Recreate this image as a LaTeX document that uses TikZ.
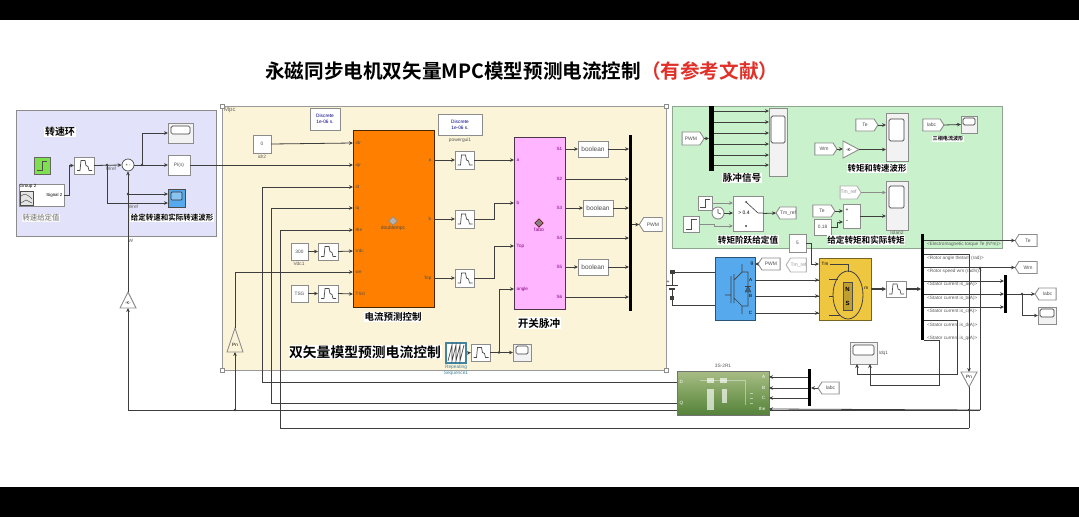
\documentclass[tikz,border=0pt]{standalone}
\usepackage{fontspec}
\setmainfont{Liberation Sans}
\newfontfamily\cjkb{Noto Sans CJK SC Bold}
\newfontfamily\cjkr{Noto Sans CJK SC}
\usetikzlibrary{arrows.meta,shapes.symbols,shapes.geometric,calc}
\definecolor{lnc}{HTML}{3E3E3E}
\definecolor{blkb}{HTML}{8C8C8C}
\definecolor{blueg}{HTML}{E2E2FA}
\definecolor{yelg}{HTML}{FCF4D8}
\definecolor{greg}{HTML}{C9F1CB}
\definecolor{gedge}{HTML}{8FA58F}
\definecolor{orng}{HTML}{FF8000}
\definecolor{pnk}{HTML}{FFB5FF}
\definecolor{invb}{HTML}{55A9EC}
\definecolor{moty}{HTML}{EFC63F}
\definecolor{redt}{HTML}{E0302A}
\definecolor{stepg}{HTML}{7FE04F}
\definecolor{tstop}{HTML}{A9BD86}
\definecolor{tsmid}{HTML}{7DA05C}
\definecolor{tsbot}{HTML}{55823A}
\newcommand\fs[1]{\fontsize{#1}{#1}\selectfont}
\tikzset{
  sig/.style={draw=lnc,line width=0.8pt,-{Stealth[length=4pt,width=3.6pt]}},
  wire/.style={draw=lnc,line width=0.8pt},
  thk/.style={draw=lnc,line width=1.6pt,-{Stealth[length=4pt,width=4pt]}},
  blk/.style={draw=blkb,line width=0.9pt,fill=white,inner sep=0pt,outer sep=0pt,font=\fs{4.8}\color{black!70}},
  bar/.style={draw=none,fill=black,inner sep=0pt,outer sep=0pt},
  plabel/.style={inner sep=0.5pt,font=\fs{4.6}},
  buslab/.style={anchor=west,inner sep=0pt,text=black!65,font=\fs{4.7}},
  caplab/.style={inner sep=0.5pt,font=\fs{4.8}\color{black!65}},
  tagr/.style={signal,signal to=east,signal pointer angle=115,draw=blkb,line width=0.9pt,fill=white,inner sep=0pt,outer sep=0pt,font=\fs{5}\color{black!70}},
  tagl/.style={signal,signal to=west,signal pointer angle=115,draw=blkb,line width=0.9pt,fill=white,inner sep=0pt,outer sep=0pt,font=\fs{5}\color{black!70}},
  handle/.style={draw=black!45,fill=white,line width=0.4pt,inner sep=0pt,minimum size=4pt},
}
\newcommand\simbox[7][blk]{\node[#1,minimum width={(#5-#3)*1pt},minimum height={(#6-#4)*1pt}] (#2) at ({(#3+#5)/2},{(#4+#6)/2}) {#7};}
\newcommand\simdelay[5]{\simbox{#1}{#2}{#3}{#4}{#5}{}
  \draw[black!70,line width=0.7pt] ($(#1.center)+(-7,5)$) -- ++(3,0) -- ++(1,-10) -- ++(4,0) -- ++(1,5) -- ++(2,1) -- ++(1,4) -- ++(3,0);}
\newcommand\simscope[9]{\simbox[blk,fill=black!5]{#1}{#2}{#3}{#4}{#5}{}
  \draw[black!75,fill=white,line width=0.7pt,rounded corners=1.5pt] (#6,#7) rectangle (#8,#9);}
\newcommand\lab[6][black]{\node[inner sep=0.6pt,fill=white,text=#1] (#2) at (#3,#4) {\fs{#5}\cjkb #6};}
\begin{document}
\begin{tikzpicture}[x=1pt,y=-1pt]
\useasboundingbox (0,0) rectangle (1079,517);
\fill[white] (0,0) rectangle (1079,517);
\fill[black] (0,0) rectangle (1079,20);
\fill[black] (0,487) rectangle (1079,517);
% title
\node[anchor=west,inner sep=0pt] (title) at (265,71) {\fs{19.6}\cjkb 永磁同步电机双矢量MPC模型预测电流控制\textcolor{redt}{（有参考文献）}};
% backgrounds
\simbox[draw=black!45,fill=blueg,line width=0.8pt,inner sep=0pt]{bgblue}{16}{110}{216}{236}{}
\simbox[draw=black!40,fill=yelg,line width=0.8pt,inner sep=0pt]{bgmpc}{222}{106}{666}{370}{}
\simbox[draw=gedge,fill=greg,line width=0.8pt,inner sep=0pt]{bggreen}{672}{106}{1002}{248}{}
\node[anchor=west,inner sep=0pt,text=black!60,font=\fs{6}] (mpcname) at (224,110) {Mpc};
\foreach \n/\hx/\hy in {ha/222/106,hb/666/106,hc/666/370,hd/222/370} \node[handle] (\n) at (\hx,\hy) {};

% ---- long wires behind the blocks ----
\coordinate (dcorner) at (262,382);
\coordinate (qcorner) at (271,403);
\coordinate (thcorner) at (280,428);
\coordinate (wcorner) at (128,410);
\coordinate (pnj) at (235,410);
\coordinate (wmright) at (980,410);
\coordinate (wmtop) at (980,268);
\coordinate (thr) at (969,428);
\coordinate (thj) at (969,410);

% ---- speed loop ----
\lab{lspeed}{60}{132}{10}{转速环}
\simbox[draw=black!60,fill=stepg,line width=0.8pt]{gstep}{34}{157}{50}{174}{}
\draw[black!70,line width=0.8pt] (37,170) -- (42,170) -- (42,161) -- (47,161);
\simbox{sigb}{19}{184}{64}{206}{}
\node[anchor=north west,inner sep=0.5pt,font=\fs{4.6}] (grp) at (19,184) {Group 2};
\node[anchor=east,inner sep=0.5pt,font=\fs{4.4}] (sgn) at (63,195) {Signal 2};
\draw[black!70,line width=0.5pt,fill=black!10] (20,191) rectangle (33,205);
\draw[black!70,line width=0.5pt] (21,196) .. controls (25,193) and (27,194) .. (32,199) (21,203) -- (26,200) -- (32,203);
\simdelay{dw}{74}{157}{94}{174}
\node[circle,draw=black!70,fill=white,line width=0.7pt,minimum size=12pt,inner sep=0pt,font=\fs{4}] (sum) at (128,165) {+ -};
\simscope{sc1}{168}{123}{193}{143}{171}{126}{190}{134}
\simbox{pi}{168}{155}{190}{175}{\fs{4.8}PI(s)}
\simbox[blk,fill=invb,draw=black!70]{sc2}{168}{189}{185}{207}{}
\draw[black!80,fill=invb!70!white,line width=0.7pt,rounded corners=1pt] (171,192) rectangle (182,200);
\node[caplab] (wrefa) at (111,169) {Wref};
\node[caplab] (wrefb) at (133,207) {Wref};
\node[caplab] (wlab) at (131,241) {W};
\node[inner sep=0.5pt,text=black!55,fill=black!3] (lgiven) at (41,218) {\fs{7.4}\cjkr 转速给定值};
\lab{lwave}{172}{218}{7.5}{给定转速和实际转速波形}
\coordinate (jw1) at (107,165);
\coordinate (jw2) at (142,165);
\coordinate (jw3) at (128,194);
\draw[sig] (sigb.east) -- ++(5,0) |- (dw.west);
\draw[sig] (dw.east) -- (sum.west);
\draw[sig] (sum.east) -- (pi.west);
\draw[sig] (jw2) |- (sc1.west);
\draw[sig] (jw1) |- ($(sc2.west)+(0,5)$);
\draw[sig] (jw3) -- ($(sc2.west)+(0,-4)$);
\foreach \j in {jw1,jw2,jw3} \fill[lnc] (\j) circle (1.4);

% triangle K
\coordinate (ktop) at (128,292);
\coordinate (kbot) at (128,308);
\draw[draw=blkb,fill=white,line width=0.9pt] (ktop) -- (136,308) -- (120,308) -- cycle;
\node[inner sep=0pt,font=\fs{4.2}] (ktxtb) at (128,303) {-K-};
\draw[sig] (ktop) -- (sum.south);
\draw[sig] (wmright) -- (wcorner) -- (kbot);
\fill[lnc] (pnj) circle (1.4);
% triangle Pn
\coordinate (ptop) at (235,328);
\coordinate (pbot) at (235,352);
\draw[draw=blkb,fill=yelg,line width=0.9pt] (ptop) -- (243,352) -- (227,352) -- cycle;
\node[inner sep=0pt,font=\fs{4.6}] (ptxt) at (235,345) {Pn};
\draw[sig] (pnj) -- (pbot);

% ---- Mpc ----
\simbox{disc}{310}{108}{340}{130}{\shortstack{\fs{4.8}\color{blue!50!black}Discrete\\\fs{4.8}\color{blue!50!black}1e-06 s.}}
\simbox[blk]{disc2}{438}{114}{482}{135}{\shortstack{\fs{4.8}\color{blue!50!black}Discrete\\\fs{4.8}\color{blue!50!black}1e-06 s.}}
\node[caplab] (pgui) at (460,140) {powergui1};
\simbox[draw=black!70!orng,fill=orng,line width=1pt,inner sep=0pt]{mpcb}{353}{130}{434}{307}{}
\draw[black!45,fill=black!30,line width=0.4pt,rotate around={45:(393,221)}] (390,218) rectangle (396,224);
\node[inner sep=0pt,text=black!70,font=\fs{5}] (mpcname2) at (393,228) {doublempc};
\foreach \n/\py/\t in {idr/143/idr,iqr/165/iqr,id/187/id,iq/208/iq,the/230/the,vdc/251/Vdc,we/272/we,tsg/294/TSG}{
  \coordinate (p\n) at (353,\py);
  \node[plabel,anchor=west,text=black!70] (t\n) at (355,\py) {\t};
}
\foreach \n/\py/\t in {a/160/a,b/219/b,t/278/Top}{
  \coordinate (o\n) at (434,\py);
  \node[plabel,anchor=east,text=black!70] (to\n) at (432,\py) {\t};
}
\simbox{c0}{253}{135}{271}{153}{0}
\node[caplab] (c0l) at (262,157) {idr2};
\simbox{c300}{291}{243}{308}{260}{300}
\node[caplab] (c300l) at (299,264) {Vdc1};
\simdelay{d300}{318}{243}{338}{260}
\simbox{ctsg}{291}{285}{308}{302}{TSG}
\simdelay{dtsg}{318}{285}{338}{302}
\draw[sig] (c0.east) -- (pidr);
\draw[sig] (pi.east) -- (piqr);
\draw[sig] (c300.east) -- (d300.west);
\draw[sig] (d300.east) -- (pvdc);
\draw[sig] (ctsg.east) -- (dtsg.west);
\draw[sig] (dtsg.east) -- (ptsg);
\draw[sig] (682,382) -- (dcorner) |- (pid);
\draw[sig] (682,403) -- (qcorner) |- (piq);
\draw[sig] (thr) -- (thcorner) |- (pthe);
\draw[sig] (ptop) |- (pwe);

\simdelay{da}{455}{151}{474}{169}
\simdelay{db}{455}{210}{474}{228}
\simdelay{dt}{455}{269}{474}{287}
\draw[sig] (oa) -- (da.west);
\draw[sig] (ob) -- (db.west);
\draw[sig] (ot) -- (dt.west);

\simbox[draw=black!70!pnk,fill=pnk,line width=1pt,inner sep=0pt]{fabo}{514}{137}{565}{309}{}
\draw[black!60!red,fill=black!50,line width=0.4pt,rotate around={45:(539,223)}] (536,220) rectangle (542,226);
\node[inner sep=0pt,text=violet,font=\fs{5}] (fabon) at (539,230) {fabo};
\foreach \n/\py/\t in {a/160/a,b/203/b,t/246/Top,g/289/angle}{
  \coordinate (f\n) at (514,\py);
  \node[plabel,anchor=west,text=violet] (tf\n) at (516,\py) {\t};
}
\foreach \n/\py in {1/149,2/179,3/208,4/238,5/267,6/297}{
  \coordinate (s\n) at (565,\py);
  \node[plabel,anchor=east,text=violet] (ts\n) at (563,\py) {S\n};
}
\draw[sig] (da.east) -- (fa);
\draw[sig] (db.east) -- ++(20,0) |- (fb);
\draw[sig] (dt.east) -- ++(20,0) |- (ft);

\simbox{b1}{578}{141}{608}{157}{\fs{6.5}boolean}
\simbox{b3}{583}{200}{613}{216}{\fs{6.5}boolean}
\simbox{b5}{578}{259}{608}{275}{\fs{6.5}boolean}
\simbox[bar]{pbar}{629}{135}{632}{311}{}
\node[tagl,minimum width=23pt,minimum height=14pt] (pwmg) at (653,224.5) {PWM};
\draw[sig] (s1) -- (b1.west);
\draw[sig] (s3) -- (b3.west);
\draw[sig] (s5) -- (b5.west);
\draw[sig] (b1.east) -- (b1.east -| pbar.west);
\draw[sig] (s2) -- (s2 -| pbar.west);
\draw[sig] (b3.east) -- (b3.east -| pbar.west);
\draw[sig] (s4) -- (s4 -| pbar.west);
\draw[sig] (b5.east) -- (b5.east -| pbar.west);
\draw[sig] (s6) -- (s6 -| pbar.west);
\draw[sig] (pbar.east |- pwmg.west) -- (pwmg.west);

\lab{lcur}{393}{317}{9.5}{电流预测控制}
\lab{lsw}{539}{323}{10.6}{开关脉冲}
\lab{ldbl}{365}{352}{13.8}{双矢量模型预测电流控制}
\simbox[draw=cyan!60!black,fill=white,line width=1.4pt,inner sep=0pt]{rep}{446}{343}{466}{363}{}
\draw[black!75,line width=0.7pt] (448,361) -- (452,345) -- (452,361) -- (456,345) -- (456,361) -- (460,345) -- (460,361) -- (464,345);
\node[inner sep=0pt,text=cyan!60!black,font=\fs{4.8}] (repa) at (456,367) {Repeating};
\node[inner sep=0pt,text=cyan!60!black,font=\fs{4.8}] (repb) at (456,373) {Sequence1};
\simdelay{dr}{471}{344}{490}{361}
\simscope{scr}{513}{344}{531}{361}{516}{346}{528}{354}
\coordinate (jr) at (499,352.5);
\draw[sig] (rep.east) -- (dr.west);
\draw[sig] (dr.east) -- (scr.west);
\draw[sig] (jr) |- (fg);
\fill[lnc] (jr) circle (1.4);

% ---- green panel ----
\node[tagr,minimum width=22pt,minimum height=13pt] (pwmf) at (691,138.5) {PWM};
\simbox[bar]{gbar}{709}{106}{714}{171}{}
\draw[sig] (pwmf.east) -- (pwmf.east -| gbar.west);
\simscope{sc3}{769}{108}{787}{176}{771}{116}{785}{143}
\foreach \py in {111,122,133,144,155,165}{
  \coordinate (gb) at (714,\py);
  \draw[sig] (gb) -- (gb -| sc3.west);
}
\lab[black]{lpulse}{742}{178}{9.6}{脉冲信号}
\node[tagr,minimum width=22pt,minimum height=12pt] (tef) at (865,125) {Te};
\node[tagr,minimum width=22pt,minimum height=12pt] (wmf) at (824,149) {Wm};
\coordinate (gtop) at (843,141);
\coordinate (gbot) at (843,158);
\coordinate (gtip) at (859,149.5);
\draw[draw=blkb,fill=white,line width=0.9pt] (gtop) -- (gtip) -- (gbot) -- cycle;
\node[inner sep=0pt,font=\fs{4.4}] (gtxt) at (849,149.5) {-K-};
\simscope{sc4}{886}{113}{908}{161}{889}{119}{904}{141}
\draw[sig] (tef.east) -- (tef.east -| sc4.west);
\draw[sig] (wmf.east) -- (843,149);
\draw[sig] (gtip) -- (gtip -| sc4.west);
\lab[black]{lts}{877}{168}{8.4}{转矩和转速波形}
\node[tagr,minimum width=21pt,minimum height=12pt] (iaf) at (931.5,125) {Iabc};
\simscope{sc5}{961}{116}{977}{133}{963}{118}{975}{125}
\draw[sig] (iaf.east) -- (sc5.west);
\lab[black]{l3p}{948}{139}{5.1}{三相电流波形}

\simbox{st1}{698}{196}{712}{210}{}
\draw[black!70,line width=0.6pt] (700,207) -- (705,207) -- (705,199) -- (710,199);
\simbox{st2}{683}{216}{699}{232}{}
\draw[black!70,line width=0.6pt] (686,229) -- (691,229) -- (691,219) -- (697,219);
\simbox{sw}{733}{196}{763}{231}{}
\coordinate (sw1) at (733,202);
\coordinate (sw2) at (733,213);
\coordinate (sw3) at (733,226);
\draw[black!75,line width=0.6pt] (746,202) -- (758,213) (758,213) -- (763,213) (746,226) -- (745,226);
\fill[black!75] (746,202) circle (1);
\fill[black!75] (746,226) circle (1);
\node[inner sep=0pt,font=\fs{5}] (swt) at (744,213) {> 0.4};
\draw[sig,draw=black!45] (st1.east) -- (st1.east -| sw1);
\draw[sig,draw=black!45] (st2.east) -- ++(15,0) |- (sw3);
\node[circle,draw=blkb,fill=white,line width=0.9pt,minimum size=12pt,inner sep=0pt] (clk) at (718,213) {};
\draw[black!75,line width=0.6pt] (718,209) -- (718,213) -- (721,214);
\draw[sig] (clk.east) -- (sw2);
\node[tagl,minimum width=20pt,minimum height=12pt] (tmg) at (788,213) {Tm\_ref};
\draw[sig] (sw.east) -- (tmg.west);
\lab[black]{lstp}{748}{240}{8.6}{转矩阶跃给定值}

\node[tagr,draw=black!30,text=black!45,fill=white,minimum width=21pt,minimum height=13pt] (tmf) at (848.5,192.5) {Tm\_ref};
\node[tagr,minimum width=22pt,minimum height=12pt] (te2) at (822,211) {Te};
\simbox{c18}{814}{219}{831}{235}{0.18}
\simbox{sm}{843}{204}{860}{228}{}
\node[inner sep=0pt,font=\fs{5}] (smp) at (847,210) {+};
\node[inner sep=0pt,font=\fs{6}] (smm) at (847,222) {-};
\simscope{sc6}{886}{181}{908}{230}{889}{186}{904}{208}
\node[caplab] (iolan) at (897,233) {Iolan2};
\draw[sig] (te2.east) -- (te2.east -| sm.west);
\draw[sig] (c18.east) -- ++(6,0) |- (843,222);
\draw[sig,draw=black!45] (tmf.east) -- (tmf.east -| sc6.west);
\draw[sig] (sm.east) -- (sc6.west |- sm.east);
\lab[black]{lreal}{866}{240}{8.6}{给定转矩和实际转矩}

% ---- power stage ----
\coordinate (bt) at (672,272);
\coordinate (bb) at (672,298);
\simbox[draw=black!50!invb,fill=invb,line width=0.9pt,inner sep=0pt]{inv}{715}{257}{755}{320}{}
\coordinate (invp) at (715,272);
\coordinate (invm) at (715,305);
\draw[wire] (bt) -- (invp);
\draw[wire] (bb) -- (672,305) -- (invm);
\draw[wire] (bt) -- (672,285);
\draw[wire] (bb) -- (672,289);
\draw[lnc,line width=1pt] (666,285) -- (678,285);
\draw[lnc,line width=1.4pt] (669,289) -- (675,289);
\fill[lnc] (669.5,270) rectangle (674.5,274);
\fill[lnc] (670,296) rectangle (674,300);
\node[inner sep=0pt,font=\fs{5}] (batp) at (668,282) {+};
\draw[black!75,line width=0.7pt] (731,276) -- (731,303) (734,274) -- (734,303) (734,280) -- (742,272) (742,272) -- (742,264) (734,298) -- (742,306) -- (742,314) (742,272) -- (748,272) -- (748,306) -- (742,306) (725,295) -- (731,295);
\draw[black!75,fill=invb!60!black,line width=0.4pt] (745,292) -- (751,292) -- (748,286) -- cycle;
\draw[black!75,line width=0.6pt] (745,286) -- (751,286);
\node[inner sep=0pt,font=\fs{4.6}] (invg) at (752,264) {g};
\foreach \n/\py/\t in {a/280/A,b/296/B,c/313/C}{
  \coordinate (i\n) at (755,\py);
  \coordinate (m\n) at (819,\py);
  \node[plabel,anchor=east] (ti\n) at (753,\py) {\t};
  \node[plabel,anchor=west] (tm\n) at (825,\py) {\t};
}
\node[tagl,minimum width=22pt,minimum height=12pt] (pwmf2) at (771,264) {PWM};
\draw[sig] (pwmf2.west) -- (755,264);
\simbox[draw=black!50!moty,fill=moty,line width=0.9pt,inner sep=0pt]{mot}{819}{258}{871}{320}{}
\draw[black!75,line width=0.6pt] (830,264) -- (848,264) -- (848,272) (829,279) -- (838,279) (829,296) -- (833,296) (829,315) -- (840,315);
\draw[black!75,line width=0.8pt] (848,295) ellipse (15 and 24);
\simbox[draw=black!70,fill=moty!80!black,line width=0.6pt,inner sep=0pt]{ns}{843}{282}{852}{310}{}
\node[inner sep=0pt,font=\bfseries\fs{6}] (nn) at (847.5,289) {N};
\node[inner sep=0pt,font=\bfseries\fs{6}] (ss) at (847.5,303) {S};
\node[plabel,anchor=west] (ttm) at (821,264) {Tm};
\node[plabel,anchor=east] (tmm) at (869,288) {m};
\draw[wire] (ia) -- (ma) (ib) -- (mb) (ic) -- (mc);
\foreach \c in {ma,mb,mc} \draw[sig] ($(\c)+(-6,0)$) -- (\c);

\simbox{c5}{789}{234}{806}{252}{5}
\coordinate (tmin) at (819,264);
\draw[sig] (c5.east) -- (811,243) |- (tmin);
\node[tagl,draw=black!30,text=black!40,minimum width=19pt,minimum height=14pt] (tmf2) at (798.5,265) {Tm\_ref};

\simdelay{dm}{886}{281}{906}{297}
\simbox[bar]{dbar}{921}{234}{924}{340}{}
\draw[thk] (871,289) -- (dm.west);
\draw[thk] (dm.east) -- (dbar.west |- dm.east);

\foreach \n/\py/\t in {te/244/{<Electromagnetic torque Te (N*m)>},ra/258/{<Rotor angle thetam (rad)>},rs/271/{<Rotor speed wm (rad/s)>},sa/284/{<Stator current is\_a(A)>},sb/298/{<Stator current is\_b(A)>},sc/311/{<Stator current is\_c(A)>},sd/325/{<Stator current is\_d(A)>},sq/338/{<Stator current is\_q(A)>}}
  \node[buslab] (bl\n) at (927,\py) {\t};

\node[tagl,minimum width=22pt,minimum height=12pt] (teg) at (1028,240.5) {Te};
\node[tagl,minimum width=22pt,minimum height=12pt] (wmg) at (1028,267.5) {Wm};
\simbox[bar]{mbar}{1004}{275}{1007}{313}{}
\node[tagl,minimum width=21pt,minimum height=12pt] (iag) at (1047.5,294) {Iabc};
\simscope{sc7}{1038}{307}{1056}{324}{1040}{309}{1054}{317}
\coordinate (jia) at (1022,294);
\draw[sig] (dbar.east |- teg.west) -- (teg.west);
\draw[sig] (dbar.east |- wmg.west) -- (wmg.west);
\coordinate (ra) at (924,254);
\coordinate (sa) at (924,281);
\coordinate (sb) at (924,294);
\coordinate (sc) at (924,307);
\coordinate (sd) at (924,320);
\coordinate (sq) at (924,340);
\draw[sig] (sa) -- (sa -| mbar.west);
\draw[sig] (sb) -- (sb -| mbar.west);
\draw[sig] (sc) -- (sc -| mbar.west);
\draw[sig] (mbar.east |- iag.west) -- (iag.west);
\draw[sig] (jia) |- (sc7.west);
\fill[lnc] (jia) circle (1.4);

\simscope{idq}{850}{342}{877}{364}{853}{345}{874}{355}
\node[caplab,anchor=west] (idql) at (878,353) {Idq1};
\coordinate (idqa) at (857,364);
\coordinate (idqb) at (870,364);
\draw[sig] (sd) -| (957,374) -| (idqa);
\draw[sig] (sq) -| (939,385) -| (idqb);

% Pn triangle right
\coordinate (ptop2) at (969,387);
\coordinate (pbase2) at (969,372);
\draw[draw=blkb,fill=white,line width=0.9pt] (ptop2) -- (977,372) -- (961,372) -- cycle;
\node[inner sep=0pt,font=\fs{4.6}] (ptxt2) at (969,377) {Pn};
\draw[sig] (ra) -| (pbase2);
\draw[wire] (ptop2) -- (thj) -- (thr);
\draw[wire] (wmtop) -- (wmright);
\fill[lnc] (wmtop) circle (1.4);
\fill[lnc] (thj) circle (1.4);

% 3S-2R
\node[caplab] (tsl) at (723,366) {3S-2R1};
\node[draw=black!55,line width=0.8pt,top color=tstop,bottom color=tsbot,middle color=tsmid,minimum width=92pt,minimum height=44pt,inner sep=0pt] (tsr) at (723,393) {};
\foreach \rx/\ry/\rxb/\ryb in {707/378/714/383,720/378/727/383,707/389/714/410,722/389/727/403}
  \fill[white,opacity=0.65] (\rx,\ry) rectangle (\rxb,\ryb);
\foreach \ry in {393,398,403} {\fill[white,opacity=0.5] (750,\ry) rectangle (753,\ry+1);}
\draw[white,opacity=0.4,line width=0.4] (700,380) -- (745,380) -- (745,405);
\foreach \n/\py/\t in {a/377/A,b/388/B,c/398/C,t/409/the}{
  \coordinate (r\n) at (769,\py);
  \node[plabel,anchor=east,text=white] (tr\n) at (766,\py) {\t};
}
\node[plabel,anchor=west,text=white] (trd) at (679,382) {D};
\node[plabel,anchor=west,text=white] (trq) at (679,403) {Q};
\simbox[bar]{rbar}{808}{369}{811}{406}{}
\node[tagl,minimum width=21pt,minimum height=12pt] (iar) at (830.5,388) {Iabc};
\draw[sig] (iar.west) -- (rbar.east |- iar.west);
\draw[sig] (rbar.west |- ra) -- (ra);
\draw[sig] (rbar.west |- rb) -- (rb);
\draw[sig] (rbar.west |- rc) -- (rc);
\draw[sig] (980,410) -- (rt);
\end{tikzpicture}
\end{document}
